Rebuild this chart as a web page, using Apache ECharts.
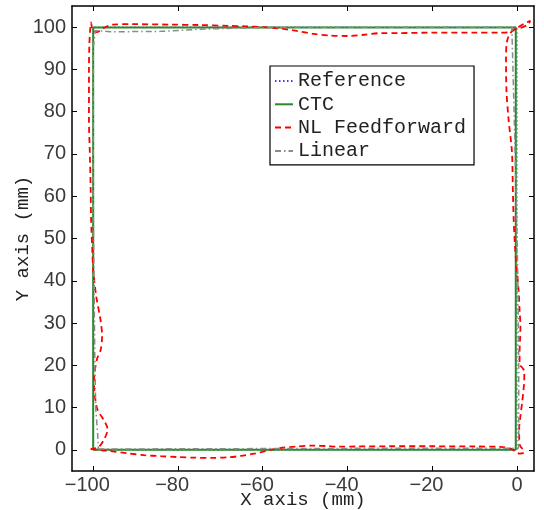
<!DOCTYPE html>
<html>
<head>
<meta charset="utf-8">
<script src="https://cdn.jsdelivr.net/npm/echarts@6/dist/echarts.min.js"></script>
<style>
  html, body { margin: 0; padding: 0; background: #fff; }
  #main { width: 544px; height: 510px; }
</style>
</head>
<body>
<div id="main"></div>
<script>
// tick labels
var xTicks = [-100, -80, -60, -40, -20, 0];
var yTicks = [0, 10, 20, 30, 40, 50, 60, 70, 80, 90, 100];

var seriesNames = ['Reference', 'CTC', 'NL Feedforward', 'Linear'];

// reference square path
var refPath = [[-100, 0], [0, 0], [0, 100], [-100, 100], [-100, 0]];

// CTC tracking
var ctcPath = [[-100, 0], [-0.3, 0], [-0.3, 99.9], [-100, 99.9], [-100, 0]];

// NL feedforward tracking
var nlPath = [
	[-100.6, 0.2], [-98, -0.1], [-95.9, -0.3], [-92, -0.8], [-88, -1.25], [-84, -1.5],
	[-80, -1.7], [-76, -1.85], [-72, -1.9], [-68, -1.75], [-65, -1.4], [-62, -0.9],
	[-59, -0.2], [-56, 0.4], [-52, 0.8], [-48, 1.0], [-45, 0.9], [-42, 0.75],
	[-38, 0.8], [-30, 0.85], [-20, 0.85], [-10, 0.8], [-4, 0.7], [-1.5, 0.3],
	[-0.5, -0.3], [0.6, -0.9], [1.6, -0.6], [1.2, 0.3], [0.7, 1], [0.5, 3],
	[0.5, 5], [0.8, 8], [1.2, 11.2], [1.5, 14], [1.7, 16.5], [1.7, 18.6],
	[1.2, 19.5], [0.6, 20.2], [0.6, 23], [0.7, 26], [0.8, 29.3], [0.6, 33],
	[0.4, 37.3], [0, 42], [-0.4, 46.8], [-0.8, 54.6], [-1, 62], [-1.2, 70.4],
	[-2, 78.2], [-2.5, 85], [-2.6, 92.4], [-2.4, 96.5], [-1.6, 98.6], [0, 99.8],
	[1.8, 100.9], [3.1, 101.5], [2.6, 100.6], [1, 99.9], [-0.8, 99.4], [-2, 98.8],
	[-4, 98.7], [-10, 98.7], [-20, 98.7], [-28, 98.6], [-32, 98.6], [-36, 98.2],
	[-40, 97.9], [-44, 98], [-48, 98.4], [-52, 99.1], [-56, 99.7], [-60, 100],
	[-64, 100.2], [-68, 100.3], [-75, 100.5], [-82, 100.6], [-91, 100.7], [-95.5, 100.6],
	[-97.5, 99.8], [-99.2, 98.8], [-100.2, 99.6], [-100.5, 101.1], [-100.7, 99.5], [-100.9, 96],
	[-101, 90], [-101, 78.2], [-100.8, 70.4], [-100.6, 62], [-100.5, 54.6], [-100.2, 47],
	[-100, 42.7], [-99.3, 36.4], [-98.3, 30.9], [-97.9, 27], [-98.2, 23.8], [-99.1, 21.5],
	[-99.7, 18], [-99.8, 15], [-99.5, 12], [-99, 9.6], [-97.2, 6.5], [-96.6, 4.9],
	[-97.4, 2.5], [-98.8, 0.6], [-100.6, 0.2]
];

// linear controller tracking
var linPath = [
	[-98.8, 0.2], [-60, 0.3], [-20, 0.4], [0.3, 0.4], [0.4, 1], [0.4, 20],
	[0.2, 40], [-0.2, 60], [-0.7, 80], [-1.1, 95], [-1.2, 99.2], [-1.2, 100],
	[-20, 100], [-50, 100], [-65, 99.8], [-75, 99.5], [-84, 99], [-96, 98.9],
	[-99.5, 99.2], [-99.9, 99.5], [-100, 95], [-100, 60], [-99.8, 40], [-99.6, 20],
	[-99.4, 10], [-98.9, 3], [-98.8, 0.2]
];

var myChart = echarts.init(document.getElementById('main'));

// digits stay centred on the tick, the minus sign hangs to the left
function xLabel(v) {
	if (v < 0) {
		return '{n|\u2212' + Math.abs(v) + '}{s| }';
	}
	return '{n|' + v + '}';
}

var tickFont = {
	fontFamily: 'Liberation Sans',
	fontSize: 20,
	color: '#3a3a3a'
};

var axisLine = {
	show: true,
	onZero: false,
	lineStyle: { color: '#000', width: 1.5 }
};

var option = {
	animation: false,
	grid: {
		left: 72,
		top: 6,
		width: 462,
		height: 465,
		outerBoundsMode: 'none'
	},
	legend: {
		orient: 'vertical',
		left: 270,
		top: 66,
		padding: [5, 8, 4, 4],
		borderColor: '#000',
		borderWidth: 1.2,
		itemWidth: 18,
		itemHeight: 12,
		itemGap: 3.3,
		itemStyle: { opacity: 0 },
		textStyle: {
			fontFamily: 'Liberation Mono',
			fontSize: 20,
			lineHeight: 20,
			color: '#222'
		},
		data: seriesNames
	},
	xAxis: [{
		type: 'value',
		min: -105,
		max: 4,
		position: 'bottom',
		name: 'X axis (mm)',
		nameLocation: 'middle',
		nameGap: 19,
		nameMoveOverlap: false,
		nameTextStyle: {
			fontFamily: 'Liberation Mono',
			fontSize: 19,
			color: '#222'
		},
		axisLine: axisLine,
		splitLine: { show: false },
		axisTick: {
			inside: true,
			length: 5,
			customValues: xTicks,
			lineStyle: { color: '#000', width: 1 }
		},
		axisLabel: Object.assign({
			margin: 4,
			customValues: xTicks,
			formatter: xLabel,
			rich: {
				n: {
					fontFamily: 'Liberation Sans',
					fontSize: 20,
					color: '#3a3a3a'
				},
				s: {
					fontSize: 20,
					width: 11.7
				}
			}
		}, tickFont)
	}, {
		type: 'value',
		min: -105,
		max: 4,
		position: 'top',
		axisLine: axisLine,
		splitLine: { show: false },
		axisTick: {
			inside: true,
			length: 5,
			customValues: xTicks,
			lineStyle: { color: '#000', width: 1 }
		},
		axisLabel: { show: false }
	}],
	yAxis: [{
		type: 'value',
		min: -5,
		max: 105,
		position: 'left',
		name: 'Y axis (mm)',
		nameLocation: 'middle',
		nameGap: 40,
		nameMoveOverlap: false,
		nameTextStyle: {
			fontFamily: 'Liberation Mono',
			fontSize: 19,
			color: '#222'
		},
		axisLine: axisLine,
		splitLine: { show: false },
		axisTick: {
			inside: true,
			length: 5,
			customValues: yTicks,
			lineStyle: { color: '#000', width: 1 }
		},
		axisLabel: Object.assign({
			margin: 6,
			customValues: yTicks
		}, tickFont)
	}, {
		type: 'value',
		min: -5,
		max: 105,
		position: 'right',
		axisLine: axisLine,
		splitLine: { show: false },
		axisTick: {
			inside: true,
			length: 5,
			customValues: yTicks,
			lineStyle: { color: '#000', width: 1 }
		},
		axisLabel: { show: false }
	}],
	series: [{
		name: 'Reference',
		type: 'line',
		symbol: 'none',
		data: refPath,
		itemStyle: { color: '#3a3aff' },
		lineStyle: { color: '#3a3aff', width: 1, type: [1.5, 2.5] }
	}, {
		name: 'CTC',
		type: 'line',
		symbol: 'none',
		data: ctcPath,
		itemStyle: { color: '#2a8a2a' },
		lineStyle: { color: '#2a8a2a', width: 2 }
	}, {
		name: 'NL Feedforward',
		type: 'line',
		symbol: 'none',
		smooth: 0.3,
		data: nlPath,
		itemStyle: { color: '#ff0000' },
		lineStyle: { color: '#ff0000', width: 1.8, type: [6, 4] }
	}, {
		name: 'Linear',
		type: 'line',
		symbol: 'none',
		data: linPath,
		itemStyle: { color: '#8a8a8a' },
		lineStyle: { color: '#8a8a8a', width: 1.5, type: [6, 3, 1.5, 3] }
	}]
};

myChart.setOption(option, true);
</script>
</body>
</html>
